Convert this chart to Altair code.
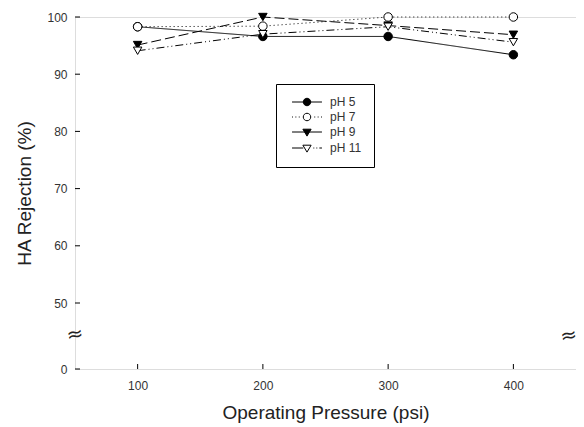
import altair as alt
import pandas as pd

pressures = [100, 200, 300, 400]
series_names = ["pH 5", "pH 7", "pH 9", "pH 11"]
ph5 = [98.3, 96.6, 96.6, 93.4]
ph7 = [98.3, 98.4, 100.0, 100.0]
ph9 = [95.1, 100.0, 98.5, 96.9]
ph11 = [94.1, 97.0, 98.3, 95.6]
x_ticks = [100, 200, 300, 400]
y_ticks = [0, 50, 60, 70, 80, 90, 100]
break_left_x = [50]
break_right_x = [450]
break_y = [26]

rows = []
for name, vals in zip(series_names, [ph5, ph7, ph9, ph11]):
    for p, v in zip(pressures, vals):
        rows.append({"pressure": p, "rejection": v, "series": name})
df = pd.DataFrame(rows)

W, H = 501, 352
FONT = "Liberation Sans"

xscale = alt.Scale(domain=[50, 450], nice=False, zero=False)
yscale = alt.Scale(domain=[0, 50, 100], range=[H, 286, 0], nice=False, zero=False)

x_enc = alt.X("pressure:Q", scale=xscale, title="Operating Pressure (psi)",
              axis=alt.Axis(values=x_ticks, tickSize=0, domain=False, grid=False,
                            labelPadding=11, titlePadding=12, labelFontSize=12,
                            titleFontSize=19, titleFontWeight="normal",
                            labelColor="#333", titleColor="#222", labelFont=FONT, titleFont=FONT))
y_enc = alt.Y("rejection:Q", scale=yscale, title="HA Rejection (%)",
              axis=alt.Axis(values=y_ticks, tickSize=0, domain=False, grid=False,
                            labelPadding=8, titlePadding=12, labelFontSize=12,
                            titleFontSize=19, titleFontWeight="normal",
                            labelColor="#333", titleColor="#222", labelFont=FONT, titleFont=FONT))

dash_scale = alt.Scale(domain=series_names,
                       range=[[1, 0], [1, 3], [10, 4], [8, 3, 1, 3, 1, 3]])
shape_scale = alt.Scale(domain=series_names,
                        range=["circle", "circle", "triangle-down", "triangle-down"])
fill_scale = alt.Scale(domain=series_names, range=["black", "white", "black", "white"])

circ = "M1,0A1,1,0,1,1,-1,0A1,1,0,1,1,1,0Z"
tri = "M-1.1,-0.75L1.1,-0.75L0,1.1Z"
leg_paths = [
    "M-4,0L4,0" + circ,
    "M-4,0L-3.75,0M-3.1,0L-2.85,0M-2.2,0L-1.95,0M1.95,0L2.2,0M2.85,0L3.1,0M3.75,0L4,0" + circ,
    "M-4,0L4,0" + tri,
    "M-4,0L-1,0M1.7,0L1.95,0M2.5,0L2.75,0M3.3,0L4,0" + tri,
]
leg_shape_scale = alt.Scale(domain=series_names, range=leg_paths)
leg_fill_scale = alt.Scale(domain=series_names, range=["black", "white", "black", "white"])

base = alt.Chart(df)

lines = base.mark_line(color="black", strokeWidth=1).encode(
    x=x_enc, y=y_enc, detail="series:N",
    strokeDash=alt.StrokeDash("series:N", scale=dash_scale, legend=None),
)

points = base.mark_point(color="black", filled=False, opacity=1, strokeWidth=1, size=72).encode(
    x="pressure:Q", y="rejection:Q",
    shape=alt.Shape("series:N", scale=shape_scale, legend=None),
    fill=alt.Fill("series:N", scale=fill_scale, legend=None),
)

legend = alt.Legend(title=None, orient="none", legendX=201, legendY=67,
                    strokeColor="black", fillColor="white", padding=12,
                    symbolSize=56, symbolStrokeWidth=1, symbolOffset=13,
                    labelOffset=17, labelFontSize=12, labelFont=FONT, labelColor="#333",
                    labelExpr="datum.label + '    '",
                    rowPadding=3, cornerRadius=0)

leg_layer = base.transform_filter("false").mark_point(
    color="black", filled=False, opacity=1, strokeWidth=1).encode(
    x="pressure:Q", y="rejection:Q",
    shape=alt.Shape("series:N", scale=leg_shape_scale, legend=legend),
    fill=alt.Fill("series:N", scale=leg_fill_scale, legend=legend),
)

xt = alt.Chart(pd.DataFrame({"v": x_ticks})).mark_rule(color="black", strokeWidth=1).encode(
    x=alt.X("v:Q", scale=xscale), y=alt.value(H), y2=alt.value(H - 5))
yt = alt.Chart(pd.DataFrame({"v": y_ticks})).mark_rule(color="black", strokeWidth=1).encode(
    y=alt.Y("v:Q", scale=yscale), x=alt.value(0), x2=alt.value(5))

brk_l = alt.Chart(pd.DataFrame({"bx": break_left_x, "by": break_y})).mark_text(
    text="≈", fontSize=20, font="DejaVu Sans", color="#222", angle=350).encode(
    x=alt.X("bx:Q", scale=xscale), y=alt.Y("by:Q", scale=yscale))
brk_r = alt.Chart(pd.DataFrame({"bx": break_right_x, "by": break_y})).mark_text(
    text="≈", fontSize=20, font="DejaVu Sans", color="#222", angle=350,
    align="right", dx=1).encode(
    x=alt.X("bx:Q", scale=xscale), y=alt.Y("by:Q", scale=yscale))

chart = alt.layer(lines, points, leg_layer, xt, yt, brk_l, brk_r).resolve_scale(
    shape="independent", fill="independent"
).properties(
    width=W, height=H,
    autosize=alt.AutoSizeParams(type="none"),
    padding={"left": 67, "top": 9, "right": 0, "bottom": 58},
).configure_view(stroke="black", strokeWidth=1).configure(background="white")

chart.save("out.html", embed_options={"renderer": "svg", "actions": False})
